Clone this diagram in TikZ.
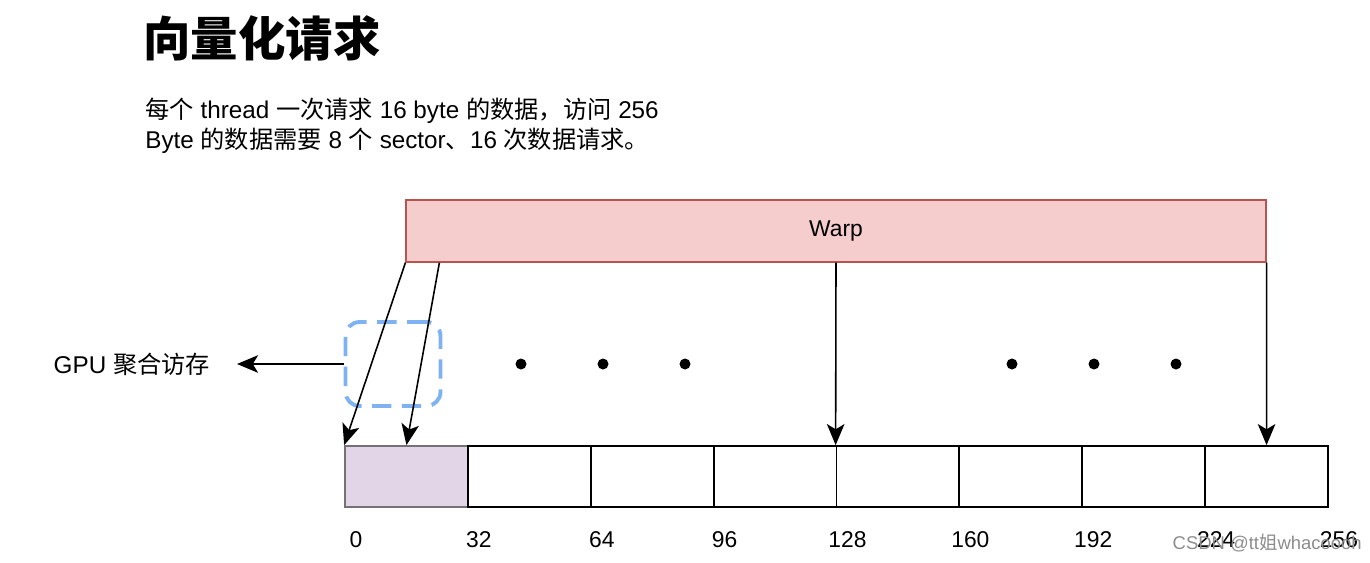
\documentclass[tikz,border=0pt]{standalone}
\usepackage{fontspec}
\setmainfont{Liberation Sans}
\newfontfamily\cjk{Noto Sans CJK SC}
\usepackage{xcolor}
\usetikzlibrary{arrows.meta,positioning,calc}

\definecolor{warpfill}{HTML}{F5CDCC}
\definecolor{warpline}{HTML}{B85450}
\definecolor{secfill}{HTML}{E1D5E7}
\definecolor{coalblue}{HTML}{7EB2F2}

\begin{document}
\begin{tikzpicture}[
        x=0.02cm, y=-0.02cm,
        font=\fontsize{13}{15}\selectfont,
        warpblock/.style={rectangle, draw=warpline, fill=warpfill, minimum width=17.2cm, minimum height=1.24cm, inner sep=0pt, line width=0.8pt},
        sector/.style={rectangle, draw, minimum width=2.4575cm, minimum height=1.22cm, inner sep=0pt, line width=1pt},
        coalbox/.style={rectangle, draw=coalblue, dashed, dash pattern=on 11pt off 6pt, rounded corners=8pt, line width=2.2pt, minimum width=1.9cm, minimum height=1.68cm},
        line/.style={draw, -{Stealth[length=12pt,width=10pt,inset=3pt]}, line width=0.9pt},
        dot/.style={circle, fill, inner sep=0pt, minimum size=0.22cm},
        offset/.style={anchor=center, inner sep=0pt}
    ]
    \useasboundingbox (0,0) rectangle (1370,562);

    % Title and note
    \node [anchor=west, inner sep=0pt, font=\fontsize{27}{32}\selectfont\bfseries\cjk] (title) at (143,38) {向量化请求};
    \node [anchor=west, inner sep=0pt, align=left, font=\fontsize{13.8}{16}\selectfont] (note) at (145,126)
        {{\cjk 每个} thread {\cjk 一次请求} 16 byte {\cjk 的数据，访问} 256\\[1pt]
         Byte {\cjk 的数据需要} 8 {\cjk 个} sector{\cjk 、}16 {\cjk 次数据请求。}};

    % Warp
    \node [warpblock] (warp) at (836,231) {\raisebox{-3pt}{Warp}};

    % Sectors
    \node [sector, fill=secfill, draw=black!55] (c0) at (406.44,476.5) {};
    \foreach \i in {1,...,7} {
        \node [sector] (c\i) at ({345+61.44+122.875*\i},476.5) {};
    }

    % Offsets
    \foreach \v [count=\k from 0] in {0,32,64,96,128,160,192,224,256} {
        \node [offset] (o\k) at ({356+122.875*\k},540) {\v};
    }

    % Coalesced access
    \node [coalbox] (gpubox) at (393,364) {};
    \node [anchor=east, inner sep=0pt, outer xsep=0.54cm, font=\fontsize{13.8}{16}\selectfont] (gpu) at (237,364) {GPU {\cjk 聚合访存}};
    \path [line] (gpubox.west) -- (gpu.east);

    % Dots
    \foreach \x [count=\n] in {521,603,685,1012,1094,1176} {
        \node [dot] (d\n) at (\x,364) {};
    }

    % Threads to sectors
    \path [line] (warp.south west) -- (c0.north west);
    \path [line] ($(warp.south west)+(34,0)$) -- (c0.north);
    \path [line] (warp.south) -- (c4.north west);
    \path [line] (warp.south east) -- (c7.north);

    % Watermark
    \node [anchor=east, inner sep=0pt, text=black!45, font=\fontsize{10.5}{12}\selectfont] (mark) at (1362,543) {CSDN @tt{\cjk 姐}whacoooh};
\end{tikzpicture}
\end{document}
